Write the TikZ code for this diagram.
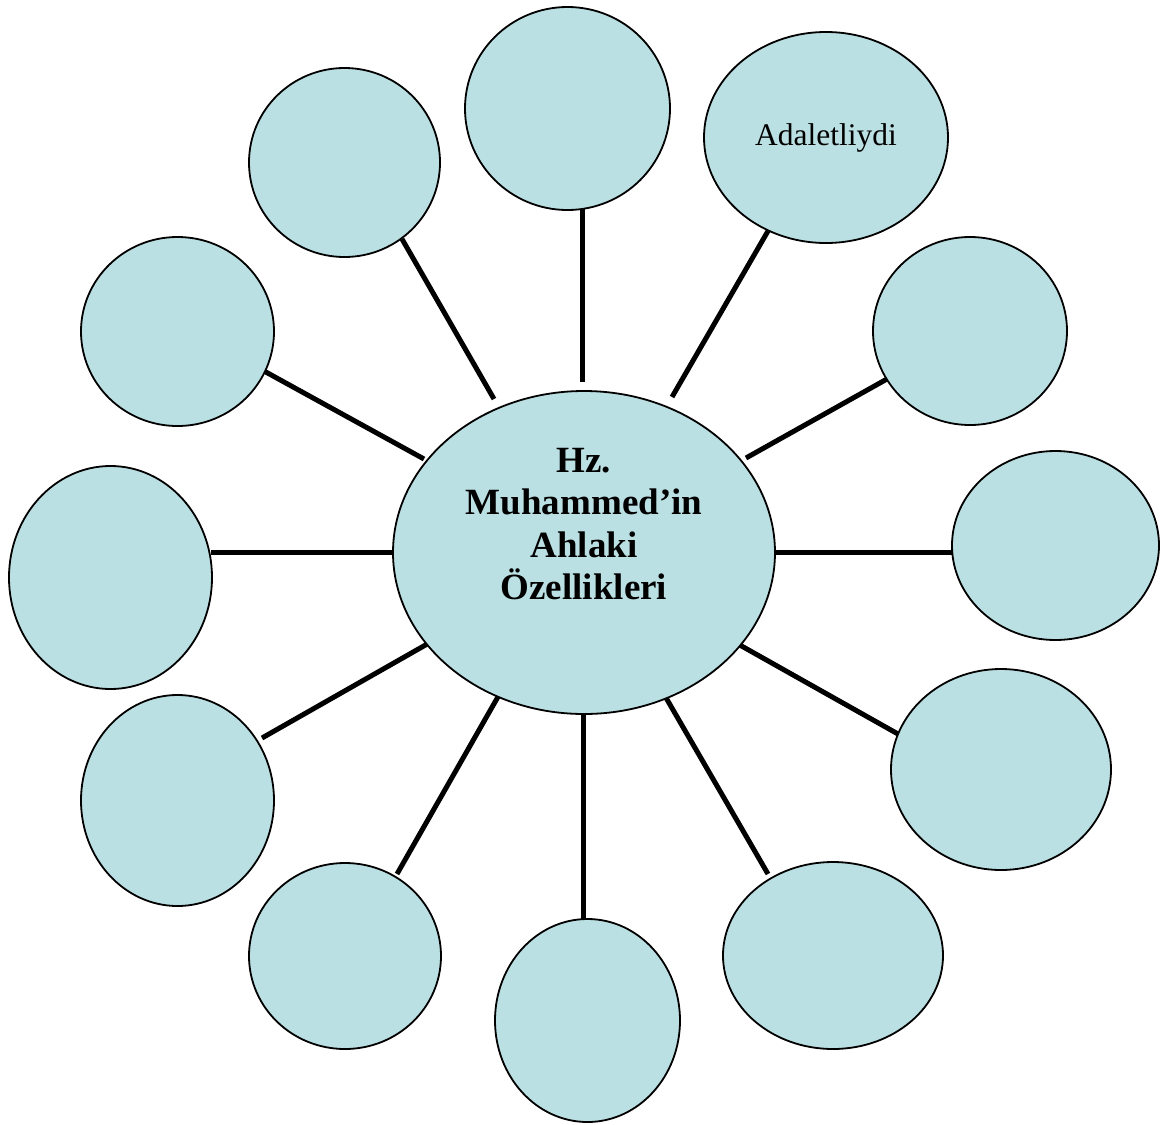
\documentclass[tikz,border=0pt]{standalone}
\usepackage{fontspec}
\setmainfont{Liberation Serif}
\usetikzlibrary{shapes.geometric}
\definecolor{bubble}{RGB}{187,224,227}
\tikzset{
  bub/.style={ellipse, draw=black, line width=1.8pt, fill=bubble, inner sep=0pt},
  spoke/.style={line width=5pt, line cap=butt}
}
\begin{document}
\begin{tikzpicture}[x=1pt,y=-1pt]
\useasboundingbox (0,0) rectangle (1168,1125);
% spokes (drawn first, nodes on top)
\coordinate (a1) at (582.7,205); \coordinate (b1) at (582.7,382);
\coordinate (a2) at (768,231);   \coordinate (b2) at (672,397);
\coordinate (a3) at (887,379);   \coordinate (b3) at (746,458);
\coordinate (a4) at (953,552);   \coordinate (b4) at (774,552);
\coordinate (a5) at (898,734);   \coordinate (b5) at (738,644);
\coordinate (a6) at (768,874);   \coordinate (b6) at (665,696);
\coordinate (a7) at (583,924);   \coordinate (b7) at (583,712);
\coordinate (a8) at (397,874);   \coordinate (b8) at (499,695);
\coordinate (a9) at (262,738);   \coordinate (b9) at (429,643);
\coordinate (a10) at (211,552);  \coordinate (b10) at (394,552);
\coordinate (a11) at (264,371);  \coordinate (b11) at (424,459);
\coordinate (a12) at (402,239);  \coordinate (b12) at (494,399);
\foreach \i in {1,...,12} {\draw[spoke] (a\i) -- (b\i);}
% centre
\node[bub, minimum width=382pt, minimum height=323pt] (c) at (584,552.5) {};
\node[align=center, inner sep=0pt, font=\fontsize{37}{42.5}\selectfont\bfseries]
  (ctext) at (584,524) {Hz.\\Muhammed’in\\Ahlaki\\Özellikleri};
% outer bubbles
\node[bub, minimum width=205pt, minimum height=203pt] (o1) at (567.5,108.5) {};
\node[bub, minimum width=244pt, minimum height=211pt, font=\fontsize{31.5}{36}\selectfont] (o2) at (826,137.5) {\raisebox{-3pt}{Adaletliydi}};
\node[bub, minimum width=194pt, minimum height=188pt] (o3) at (970,331) {};
\node[bub, minimum width=207pt, minimum height=189pt] (o4) at (1055.5,545.5) {};
\node[bub, minimum width=220pt, minimum height=201pt] (o5) at (1001,769.5) {};
\node[bub, minimum width=220pt, minimum height=187pt] (o6) at (833,955.5) {};
\node[bub, minimum width=185pt, minimum height=203pt] (o7) at (587.5,1020.5) {};
\node[bub, minimum width=192pt, minimum height=186pt] (o8) at (345,956) {};
\node[bub, minimum width=193pt, minimum height=211pt] (o9) at (177.5,800.5) {};
\node[bub, minimum width=203pt, minimum height=223pt] (o10) at (110.5,577.5) {};
\node[bub, minimum width=193pt, minimum height=189pt] (o11) at (177.5,331.5) {};
\node[bub, minimum width=191pt, minimum height=189pt] (o12) at (344.5,162.5) {};
\end{tikzpicture}
\end{document}
